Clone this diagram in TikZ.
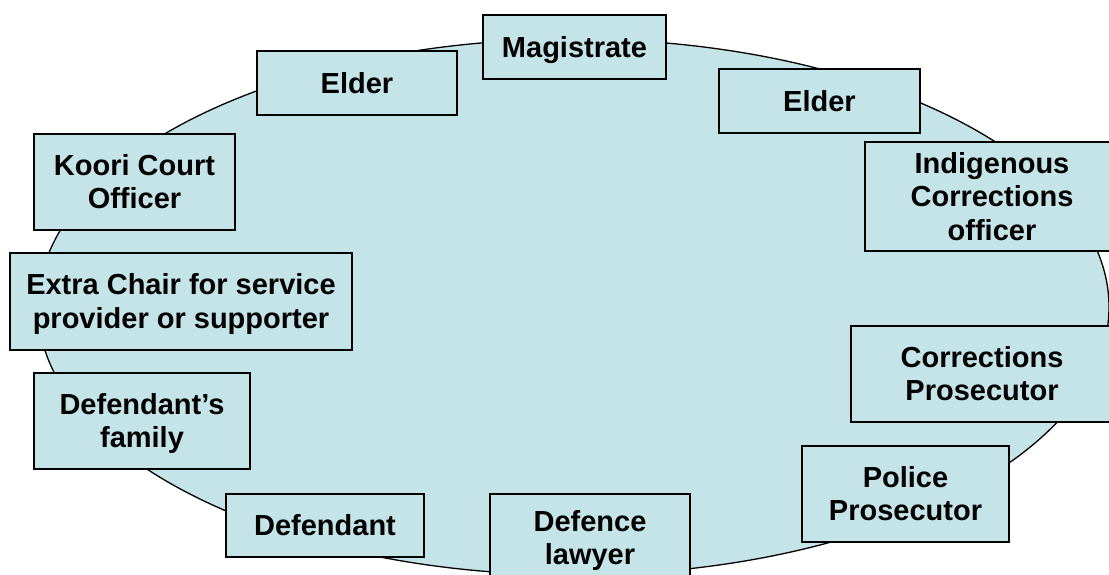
\documentclass[tikz,border=0pt]{standalone}
\usepackage{fontspec}
\setmainfont{Liberation Sans}
\definecolor{cfill}{RGB}{197,228,232}
\newcommand{\rolelines}[1]{\raisebox{-3.5pt}[\height][\depth]{\begin{tabular}{@{}c@{}}#1\end{tabular}}}
\tikzset{
  rolebox/.style={draw=black, fill=cfill, line width=1.5pt, inner sep=0pt, align=center,
    font=\bfseries\fontsize{29}{33.5}\selectfont},
  table/.style={draw=black, fill=cfill, line width=1.3pt}
}
\begin{document}
\begin{tikzpicture}[x=1pt,y=-1pt]
\useasboundingbox (0,0) rectangle (1109,574);
\clip (0,0) rectangle (1109,574);
\fill[white] (0,0) rectangle (1109,574);
\draw[table] (573.5,307) ellipse [x radius=535.5, y radius=268];
\node[rolebox, minimum width=183pt, minimum height=64pt] (magistrate) at (574.5,47) {\rolelines{Magistrate}};
\node[rolebox, minimum width=200pt, minimum height=64pt] (elderL) at (357,83) {\rolelines{Elder}};
\node[rolebox, minimum width=201pt, minimum height=64pt] (elderR) at (819.5,101) {\rolelines{Elder}};
\node[rolebox, minimum width=201pt, minimum height=96pt] (koori) at (134.5,182) {\rolelines{Koori Court\\Officer}};
\node[rolebox, minimum width=342pt, minimum height=97pt] (extra) at (181,301.5) {\rolelines{Extra Chair for service\\provider or supporter}};
\node[rolebox, minimum width=216pt, minimum height=96pt] (family) at (142,421) {\rolelines{Defendant’s\\family}};
\node[rolebox, minimum width=198pt, minimum height=63pt] (defendant) at (325,525.5) {\rolelines{Defendant}};
\node[rolebox, minimum width=200pt, minimum height=88pt] (defence) at (590,538) {\rolelines{Defence\\lawyer}};
\node[rolebox, minimum width=254pt, minimum height=109pt] (indig) at (992,196.5) {\rolelines{Indigenous\\Corrections\\officer}};
\node[rolebox, minimum width=262pt, minimum height=96pt] (corrp) at (982,374) {\rolelines{Corrections\\Prosecutor}};
\node[rolebox, minimum width=207pt, minimum height=96pt] (police) at (905.5,494) {\rolelines{Police\\Prosecutor}};
\end{tikzpicture}
\end{document}
